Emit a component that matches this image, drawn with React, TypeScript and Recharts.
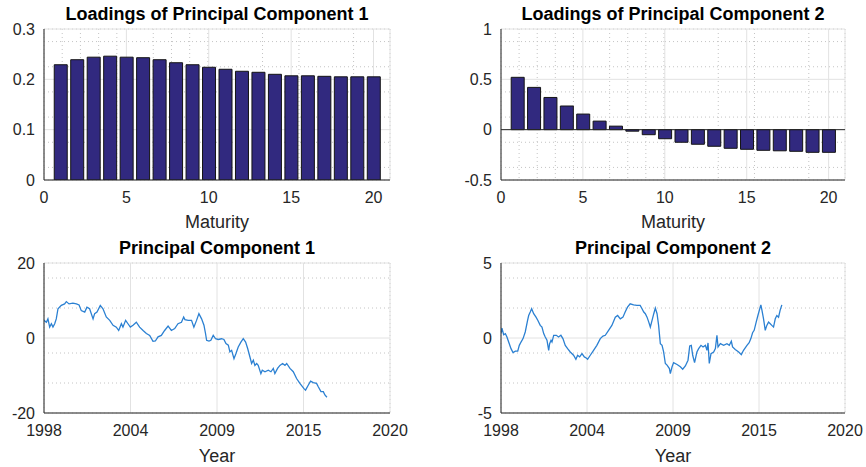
import React from 'react';
import { BarChart, Bar, LineChart, Line, XAxis, YAxis, CartesianGrid, ReferenceLine } from 'recharts';

// loadings by maturity
const maturities = [1, 2, 3, 4, 5, 6, 7, 8, 9, 10, 11, 12, 13, 14, 15, 16, 17, 18, 19, 20];
const pc1Loadings = [0.229, 0.239, 0.244, 0.246, 0.244, 0.243, 0.239, 0.233, 0.229, 0.224, 0.22, 0.216, 0.214, 0.21, 0.207, 0.207, 0.206, 0.205, 0.205, 0.205];
const pc2Loadings = [0.52, 0.42, 0.32, 0.235, 0.155, 0.085, 0.035, -0.015, -0.05, -0.09, -0.125, -0.145, -0.165, -0.185, -0.195, -0.205, -0.21, -0.215, -0.225, -0.225];

// principal component scores over time
const pc1Years = [
  1998.0, 1998.15, 1998.25, 1998.36, 1998.47, 1998.57, 1998.68, 1998.78, 1998.89, 1999.1, 1999.31, 1999.42, 1999.59, 1999.84,
  2000.06, 2000.23, 2000.37, 2000.59, 2000.73, 2000.9, 2001.12, 2001.22, 2001.37, 2001.58, 2001.75, 2001.96, 2002.18, 2002.39,
  2002.6, 2002.75, 2002.92, 2003.02, 2003.19, 2003.34, 2003.49, 2003.66, 2003.87, 2004.08, 2004.3, 2004.51, 2004.72, 2004.93,
  2005.08, 2005.25, 2005.46, 2005.67, 2005.89, 2006.1, 2006.31, 2006.52, 2006.74, 2006.88, 2006.96, 2007.17, 2007.38, 2007.53,
  2007.7, 2007.85, 2008.02, 2008.17, 2008.27, 2008.34, 2008.49, 2008.61, 2008.76, 2008.91, 2009.08, 2009.29, 2009.44, 2009.57,
  2009.72, 2009.82, 2009.93, 2010.08, 2010.2, 2010.35, 2010.52, 2010.67, 2010.82, 2010.95, 2011.09, 2011.2, 2011.31, 2011.41,
  2011.52, 2011.62, 2011.79, 2011.88, 2012.05, 2012.26, 2012.43, 2012.58, 2012.68, 2012.85, 2013.0, 2013.17, 2013.32, 2013.43,
  2013.64, 2013.85, 2014.06, 2014.27, 2014.53, 2014.63, 2014.8, 2014.95, 2015.12, 2015.33, 2015.44, 2015.61, 2015.76, 2015.86,
  2015.99,
];
const pc1Scores = [
  4.7, 4.2, 5.1, 2.9, 3.8, 2.9, 3.8, 5.1, 7.8, 8.7, 9.1, 9.7, 9.1, 9.3,
  9.1, 8.8, 7.3, 6.9, 8.2, 7.8, 5.1, 6.5, 6.9, 8.7, 7.8, 5.6, 4.7, 3.4,
  2.9, 2.0, 3.8, 2.9, 4.7, 3.8, 2.9, 3.4, 4.2, 2.9, 2.0, 1.2, 0.7, -0.9,
  -0.8, 0.3, 0.7, 2.0, 3.2, 2.0, 2.5, 3.8, 4.2, 5.6, 4.9, 4.7, 4.7, 2.9,
  4.7, 6.5, 5.1, 3.4, 1.2, -0.6, -0.8, -0.6, 0.7, -0.2, -0.4, -0.2, -0.4, -1.5,
  -1.9, -3.7, -3.3, -5.5, -4.2, -2.4, -1.1, -0.2, -1.1, -2.8, -5.0, -6.8, -5.9, -7.3,
  -6.8, -7.3, -9.5, -8.6, -9.0, -8.6, -9.0, -8.1, -9.5, -8.1, -7.3, -6.8, -7.3, -6.8,
  -8.1, -9.0, -10.8, -12.1, -13.5, -13.9, -12.6, -11.5, -11.9, -12.1, -13.0, -14.3, -14.3, -15.2,
  -15.8,
];

const pc2Years = [
  1998.0, 1998.06, 1998.17, 1998.28, 1998.38, 1998.49, 1998.64, 1998.77, 1998.92, 1999.07, 1999.17, 1999.28, 1999.41, 1999.55,
  1999.7, 1999.77, 1999.87, 1999.96, 2000.09, 2000.24, 2000.36, 2000.51, 2000.62, 2000.73, 2000.83, 2000.94, 2001.05, 2001.11,
  2001.2, 2001.26, 2001.37, 2001.54, 2001.68, 2001.83, 2001.96, 2002.11, 2002.26, 2002.43, 2002.64, 2002.79, 2002.9, 2003.03,
  2003.18, 2003.33, 2003.45, 2003.54, 2003.71, 2003.92, 2004.13, 2004.35, 2004.52, 2004.67, 2004.88, 2005.09, 2005.31, 2005.46,
  2005.63, 2005.8, 2005.94, 2006.09, 2006.26, 2006.48, 2006.69, 2006.9, 2007.02, 2007.13, 2007.23, 2007.34, 2007.45, 2007.55,
  2007.66, 2007.77, 2007.87, 2007.98, 2008.08, 2008.19, 2008.3, 2008.4, 2008.51, 2008.62, 2008.77, 2008.83, 2008.94, 2009.04,
  2009.26, 2009.47, 2009.62, 2009.79, 2009.96, 2010.07, 2010.17, 2010.26, 2010.38, 2010.53, 2010.64, 2010.79, 2010.92, 2011.07,
  2011.17, 2011.24, 2011.32, 2011.43, 2011.6, 2011.71, 2011.81, 2011.88, 2012.03, 2012.24, 2012.45, 2012.6, 2012.73, 2012.81,
  2012.98, 2013.2, 2013.37, 2013.51, 2013.73, 2013.87, 2013.98, 2014.09, 2014.19, 2014.32, 2014.43, 2014.52, 2014.62, 2014.69,
  2014.79, 2014.9, 2015.0, 2015.11, 2015.22, 2015.32, 2015.43, 2015.54, 2015.64, 2015.75, 2015.85, 2015.96,
];
const pc2Scores = [
  0.3, 0.66, 0.22, 0.29, 0.07, -0.27, -0.71, -0.97, -0.88, -0.88, -0.49, -0.27, -0.04, 0.4,
  1.17, 1.5, 1.73, 1.95, 1.62, 1.39, 1.17, 0.84, 0.73, 0.29, 0.07, -0.15, -0.82, -0.38,
  -0.15, -0.27, 0.18, 0.18, 0.07, 0.18, -0.04, -0.49, -0.71, -0.93, -1.15, -1.42, -1.15, -1.26,
  -1.04, -1.26, -1.33, -1.42, -1.15, -0.82, -0.49, -0.04, 0.13, 0.18, 0.51, 0.84, 1.39, 1.5,
  1.28, 1.39, 1.73, 2.06, 2.28, 2.21, 2.17, 2.17, 1.95, 1.73, 1.62, 1.39, 1.06, 0.73,
  1.17, 1.62, 1.99, 1.62, 0.84, -0.38, -0.49, -0.93, -1.7, -1.81, -2.04, -2.37, -1.92, -1.64,
  -1.77, -1.92, -2.08, -1.86, -1.48, -0.53, -0.49, -1.15, -1.64, -0.93, -0.71, -0.49, -0.6, -0.49,
  -0.82, -0.33, -1.7, -1.04, -0.93, -0.71, 0.18, -0.6, -0.38, -0.49, -0.38, -0.49, -0.22, -0.6,
  -0.77, -0.93, -1.11, -0.82, -0.49, -0.31, -0.04, 0.35, 0.51, 1.06, 1.5, 1.84, 2.21, 1.84,
  1.28, 0.51, 0.84, 1.06, 0.95, 0.84, 0.73, 1.28, 1.5, 1.39, 1.84, 2.21,
];

// axis ticks
const maturityTicks = [0, 5, 10, 15, 20];
const maturityMinor = [1, 2, 3, 4, 6, 7, 8, 9, 11, 12, 13, 14, 16, 17, 18, 19];
const pc1LoadTicks = [0, 0.1, 0.2, 0.3];
const pc1LoadMinor = [0.025, 0.05, 0.075, 0.125, 0.15, 0.175, 0.225, 0.25, 0.275];
const pc2LoadTicks = [-0.5, 0, 0.5, 1];
const pc2LoadMinor = [-0.375, -0.25, -0.125, 0.125, 0.25, 0.375, 0.625, 0.75, 0.875];
const yearTicks = [1998, 2003.5, 2009, 2014.5, 2020];
const yearTickLabels = ['1998', '2004', '2009', '2015', '2020'];
const yearMinor = [1999.1, 2000.2, 2001.3, 2002.4, 2004.6, 2005.7, 2006.8, 2007.9, 2010.1, 2011.2, 2012.3, 2013.4, 2015.6, 2016.7, 2017.8, 2018.9];
const pc1ScoreTicks = [-20, 0, 20];
const pc1ScoreMinor = [-16, -12, -8, -4, 4, 8, 12, 16];
const pc2ScoreTicks = [-5, 0, 5];
const pc2ScoreMinor = [-4, -3, -2, -1, 1, 2, 3, 4];

const FONT = '"Liberation Sans", Arial, Helvetica, sans-serif';
const AXIS = '#262626';
const BAR_FILL = '#31297f';
const LINE = '#2b80d2';

const tickStyle = { fontSize: 16, fill: AXIS, fontFamily: FONT };
const noLabel = () => <g />;

interface PanelProps {
  title: string;
  left: number;
  top: number;
  width: number;
  height: number;
  yWidth: number;
  right: number;
  xHeight: number;
  xLabel: string;
  labelOffset: number;
  xDomain: [number, number];
  xTicks: number[];
  xMinor: number[];
  yDomain: [number, number];
  yTicks: number[];
  yMinor: number[];
  children: (axes: React.ReactNode[]) => React.ReactNode;
  xFormatter?: (v: number, i: number) => string;
}

// frame, inward ticks and grids shared by all four panels
function frameAxes(p: PanelProps, xKey: string) {
  return [
    <XAxis key="xt" xAxisId="top" orientation="top" mirror height={0} type="number" domain={p.xDomain} ticks={p.xTicks}
      tick={noLabel} tickSize={4} stroke={AXIS} allowDataOverflow />,
    <XAxis key="xb" xAxisId="bin" orientation="bottom" mirror height={0} type="number" domain={p.xDomain} ticks={p.xTicks}
      tick={noLabel} tickSize={4} axisLine={false} stroke={AXIS} allowDataOverflow />,
    <XAxis key="xm" xAxisId="minor" hide height={0} type="number" domain={p.xDomain} ticks={p.xMinor} allowDataOverflow />,
    <YAxis key="yr" yAxisId="right" orientation="right" mirror width={0} type="number" domain={p.yDomain} ticks={p.yTicks}
      tick={noLabel} tickSize={4} stroke={AXIS} allowDataOverflow />,
    <YAxis key="yl" yAxisId="lin" orientation="left" mirror width={0} type="number" domain={p.yDomain} ticks={p.yTicks}
      tick={noLabel} tickSize={4} axisLine={false} stroke={AXIS} allowDataOverflow />,
    <YAxis key="ym" yAxisId="minor" hide width={0} type="number" domain={p.yDomain} ticks={p.yMinor} allowDataOverflow />,
    <XAxis key="x" xAxisId="main" dataKey={xKey} type="number" domain={p.xDomain} ticks={p.xTicks} height={p.xHeight}
      tick={tickStyle} tickLine={false} tickSize={0} tickMargin={12} stroke={AXIS} interval={0}
      tickFormatter={p.xFormatter} allowDataOverflow
      label={{ value: p.xLabel, position: 'insideBottom', offset: p.labelOffset, fill: AXIS, fontSize: 18, fontFamily: FONT }} />,
    <YAxis key="y" yAxisId="main" type="number" domain={p.yDomain} ticks={p.yTicks} width={p.yWidth}
      tick={tickStyle} tickLine={false} tickSize={0} tickMargin={9} stroke={AXIS} interval={0} allowDataOverflow />,
    <CartesianGrid key="gm" xAxisId="minor" yAxisId="minor" stroke="#c4c4c4" strokeDasharray="1 3" />,
    <CartesianGrid key="g" xAxisId="main" yAxisId="main" stroke="#e2e2e2" />,
  ];
}

function Panel(p: PanelProps & { xKey: string }) {
  const plotLeft = p.yWidth;
  const plotWidth = p.width - p.yWidth - p.right;
  return (
    <div style={{ position: 'absolute', left: p.left, top: p.top, width: p.width, height: p.height }}>
      <div style={{
        position: 'absolute', left: plotLeft, top: 4, width: plotWidth, textAlign: 'center',
        fontFamily: FONT, fontWeight: 'bold', fontSize: 18, lineHeight: '20px', color: '#000',
      }}>
        {p.title}
      </div>
      {p.children(frameAxes(p, p.xKey))}
    </div>
  );
}

function LoadingsPanel(props: {
  title: string; left: number; width: number; yWidth: number; right: number;
  values: number[]; yDomain: [number, number]; yTicks: number[]; yMinor: number[]; zeroLine?: boolean;
}) {
  const data = maturities.map((m, i) => ({ maturity: m, loading: props.values[i] }));
  const height = 240;
  const margin = { top: 29, right: props.right, bottom: 0, left: 0 };
  return (
    <Panel title={props.title} left={props.left} top={0} width={props.width} height={height} yWidth={props.yWidth}
      right={props.right} xHeight={60} xLabel="Maturity" labelOffset={12} xDomain={[0, 21]} xTicks={maturityTicks}
      xMinor={maturityMinor} yDomain={props.yDomain} yTicks={props.yTicks} yMinor={props.yMinor} xKey="maturity">
      {(axes) => (
        <BarChart width={props.width} height={height} data={data} margin={margin}>
          {axes}
          <Bar xAxisId="main" yAxisId="main" dataKey="loading" fill={BAR_FILL} stroke="#141414" strokeWidth={1}
            barSize={13} isAnimationActive={false} />
          {props.zeroLine && <ReferenceLine xAxisId="main" yAxisId="main" y={0} stroke={AXIS} strokeWidth={1} />}
        </BarChart>
      )}
    </Panel>
  );
}

function ScoresPanel(props: {
  title: string; left: number; width: number; yWidth: number; right: number;
  years: number[]; scores: number[]; yDomain: [number, number]; yTicks: number[]; yMinor: number[];
}) {
  const data = props.years.map((y, i) => ({ year: y, score: props.scores[i] }));
  const height = 233;
  const margin = { top: 29, right: props.right, bottom: 0, left: 0 };
  return (
    <Panel title={props.title} left={props.left} top={234} width={props.width} height={height} yWidth={props.yWidth}
      right={props.right} xHeight={54} xLabel="Year" labelOffset={5} xDomain={[1998, 2020]} xTicks={yearTicks}
      xMinor={yearMinor} yDomain={props.yDomain} yTicks={props.yTicks} yMinor={props.yMinor} xKey="year"
      xFormatter={(v: number) => yearTickLabels[yearTicks.indexOf(v)] ?? String(v)}>
      {(axes) => (
        <LineChart width={props.width} height={height} data={data} margin={margin}>
          {axes}
          <Line xAxisId="main" yAxisId="main" type="linear" dataKey="score" stroke={LINE} strokeWidth={1.3}
            dot={false} isAnimationActive={false} />
        </LineChart>
      )}
    </Panel>
  );
}

export default function App() {
  return (
    <div style={{ position: 'absolute', left: 0, top: 0, width: 866, height: 467, background: '#fff', fontFamily: FONT }}>
      <LoadingsPanel title="Loadings of Principal Component 1" left={0} width={430} yWidth={44} right={40}
        values={pc1Loadings} yDomain={[0, 0.3]} yTicks={pc1LoadTicks} yMinor={pc1LoadMinor} />
      <LoadingsPanel title="Loadings of Principal Component 2" left={430} width={436} yWidth={71} right={21}
        values={pc2Loadings} yDomain={[-0.5, 1]} yTicks={pc2LoadTicks} yMinor={pc2LoadMinor} zeroLine />
      <ScoresPanel title="Principal Component 1" left={0} width={430} yWidth={44} right={40}
        years={pc1Years} scores={pc1Scores} yDomain={[-20, 20]} yTicks={pc1ScoreTicks} yMinor={pc1ScoreMinor} />
      <ScoresPanel title="Principal Component 2" left={430} width={436} yWidth={71} right={21}
        years={pc2Years} scores={pc2Scores} yDomain={[-5, 5]} yTicks={pc2ScoreTicks} yMinor={pc2ScoreMinor} />
    </div>
  );
}
